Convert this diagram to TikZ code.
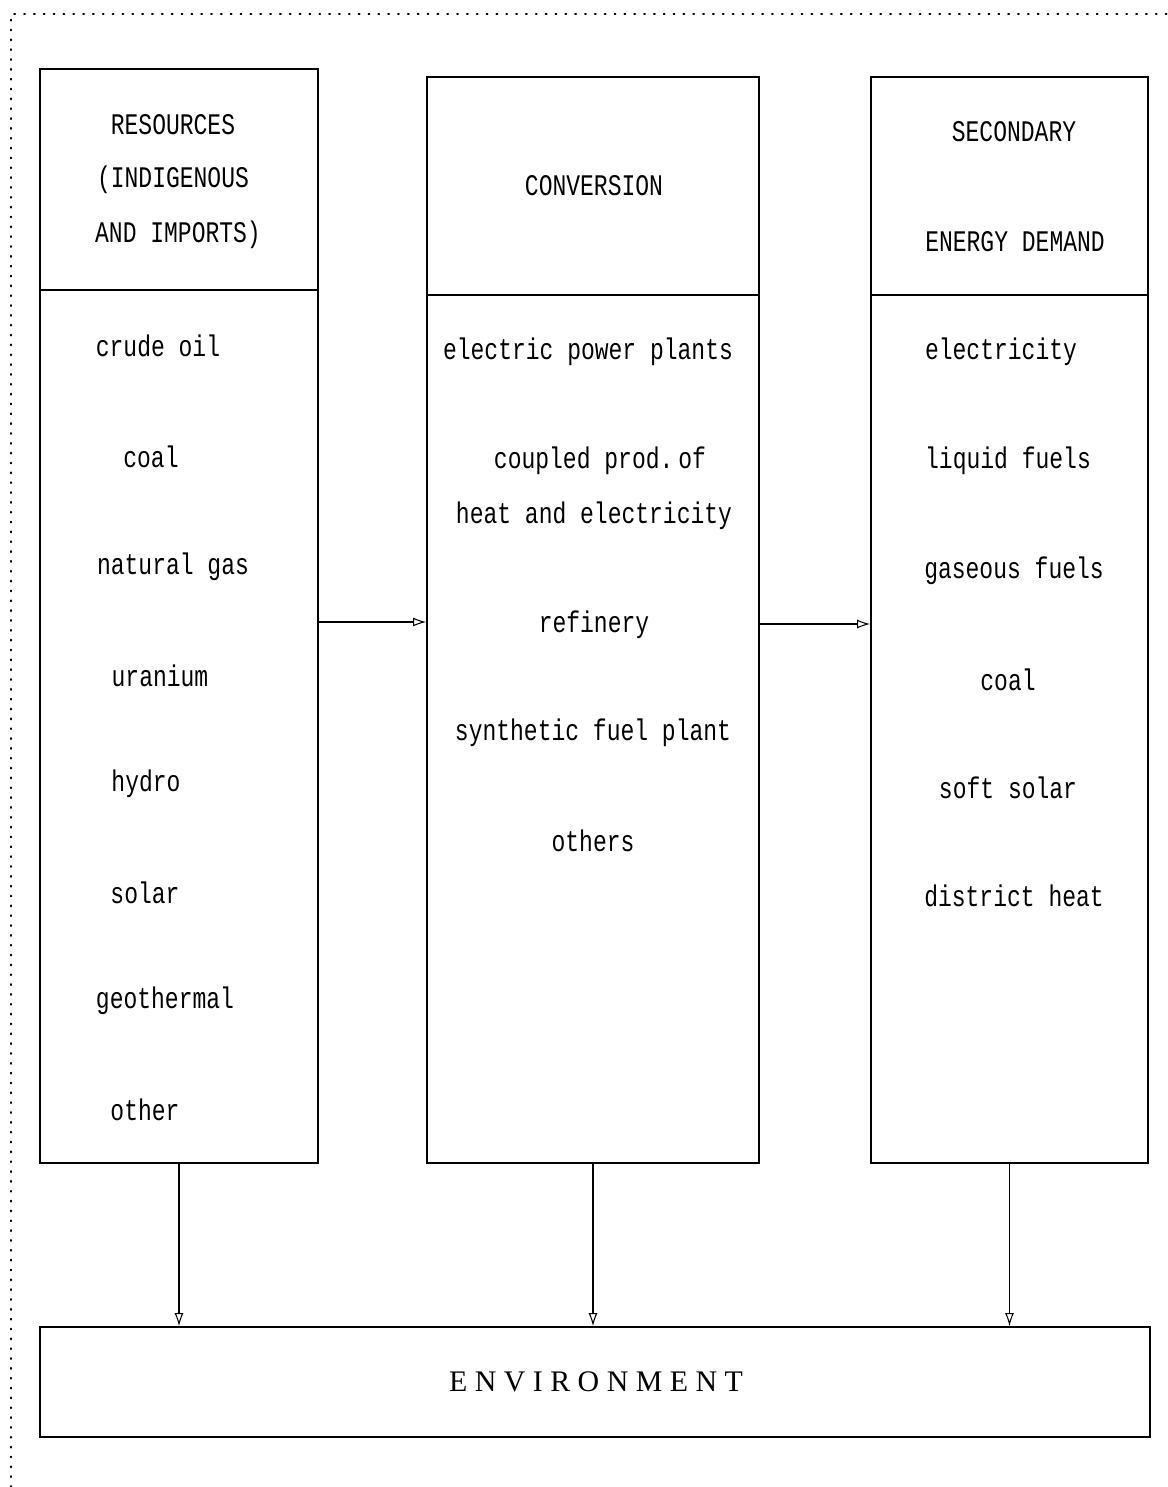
\documentclass[tikz,border=0pt]{standalone}
\usepackage{fontspec}
\newfontfamily\typefont[FakeStretch=0.77]{Liberation Mono}
\newfontfamily\envfont[LetterSpace=25]{Liberation Serif}
\usetikzlibrary{positioning,arrows.meta,calc}

\begin{document}
\begin{tikzpicture}[
  x=0.2mm, y=-0.2mm,
  every node/.style={font=\typefont\fontsize{17}{20}\selectfont, inner sep=0pt},
  colbox/.style={draw, line width=1pt, minimum height=21.72cm},
  >={Latex[open,length=2.6mm,width=1.8mm]}
]
% 1 unit = 1 px of the 1168x1487 page
\useasboundingbox (0,0) rectangle (1168,1487);

%% --- Dotted frame (top and left only) --------------------------
\draw[line width=1pt, dash pattern=on 0.6pt off 5pt, line cap=round]
     (11,1487) -- (11,14) -- (1168,14);

%% --- Column boxes ----------------------------------------------
\node[colbox, minimum width=5.56cm, minimum height=21.88cm] (res)  at (179,616)  {};
\node[colbox, minimum width=6.64cm] (conv) at (593,620)  {};
\node[colbox, minimum width=5.54cm] (dem)  at (1009.5,620) {};

%% --- Environment box -------------------------------------------
\node[draw, line width=1pt, minimum width=22.2cm, minimum height=2.2cm]
     (env) at (595,1382) {};
\node[font=\envfont\fontsize{17}{20}\selectfont] (envtxt) at (596,1382) {ENVIRONMENT};

%% --- Header dividers -------------------------------------------
\draw[line width=0.6pt] (res.west |- 0,290) -- (res.east |- 0,290);
\draw[line width=0.6pt] (conv.west |- 0,295) -- (conv.east |- 0,295);
\draw[line width=0.6pt] (dem.west |- 0,295) -- (dem.east |- 0,295);

%% --- Headers ---------------------------------------------------
\node (resA) at (173,125) {RESOURCES};
\node (resB) at (173,180) {(INDIGENOUS};
\node (resC) at (178,235) {AND IMPORTS)};
\node (convA) at (594,186) {CONVERSION};
\node (demA) at (1014,132) {SECONDARY};
\node (demB) at (1015,242) {ENERGY DEMAND};

%% --- Resources -------------------------------------------------
\node (crude)  at (158,346)  {crude oil};
\node (coalA)  at (151,457)  {coal};
\node (gas)    at (173,567)  {natural gas};
\node (uran)   at (160,676)  {uranium};
\node (hydro)  at (146,784)  {hydro};
\node (solar)  at (145,893)  {solar};
\node (geo)    at (165,1001) {geothermal};
\node (other)  at (145,1110) {other};

%% --- Conversion ------------------------------------------------
\node (elplant) at (588,352) {electric power plants};
\node (coupA)   at (600,461) {coupled prod.\,of};
\node (coupB)   at (594,516) {heat and electricity};
\node (refin)   at (594,625) {refinery};
\node (synth)   at (593,733) {synthetic fuel plant};
\node (others)  at (593,841) {others};

%% --- Secondary energy demand -----------------------------------
\node (elec)   at (1001,352) {electricity};
\node (liquid) at (1008,461) {liquid fuels};
\node (gaseous) at (1014,571) {gaseous fuels};
\node (coalB)  at (1008,680) {coal};
\node (soft)   at (1008,788) {soft solar};
\node (dheat)  at (1014,896) {district heat};

%% --- Connectors ------------------------------------------------
\draw[->, line width=0.6pt] ([yshift=-1.2mm]res.east)
     -- ([yshift=-1.2mm]res.east -| conv.west);
\draw[->, line width=0.6pt] ([yshift=-0.8mm]conv.east)
     -- ([yshift=-0.8mm]conv.east -| dem.west);
\foreach \col in {res, conv, dem}{
  \draw[->, line width=0.6pt] (\col.south) -- (\col.south |- env.north);
}

\end{tikzpicture}
\end{document}
